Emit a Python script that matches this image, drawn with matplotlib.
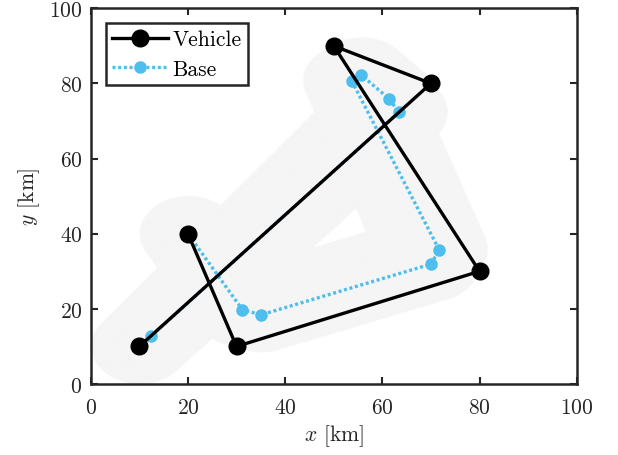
"""Vehicle / base route with the base's 10 km operating corridor."""

import numpy as np
import matplotlib

matplotlib.use("Agg")
import matplotlib.pyplot as plt
from matplotlib.colors import to_rgb

plt.rcParams["font.family"] = "serif"
plt.rcParams["font.serif"] = ["cmr10", "DejaVu Serif"]
plt.rcParams["mathtext.fontset"] = "cm"
plt.rcParams["axes.formatter.use_mathtext"] = True

# targets visited by the vehicle, in order
vehicle_x = [10, 70, 50, 80, 30, 20]
vehicle_y = [10, 80, 90, 30, 10, 40]

# base route: launch / recovery points in pairs
base_x = [10, 12.5, 63.4, 61.4, 55.7, 53.7, 71.7, 70.0, 35.0, 31.2, 20]
base_y = [10, 12.9, 72.3, 75.9, 82.2, 80.7, 35.7, 31.9, 18.4, 19.8, 40]

corridor_radius = 10.0  # km

GRAY = "#f5f5f5"
BLUE = "#4dbeee"
AXC = "#262626"
FS = 15.5


def convex_hull(pts):
    pts = sorted(set(pts))
    if len(pts) < 3:
        return pts

    def cross(o, a, b):
        return (a[0] - o[0]) * (b[1] - o[1]) - (a[1] - o[1]) * (b[0] - o[0])

    lower, upper = [], []
    for p in pts:
        while len(lower) >= 2 and cross(lower[-2], lower[-1], p) <= 0:
            lower.pop()
        lower.append(p)
    for p in reversed(pts):
        while len(upper) >= 2 and cross(upper[-2], upper[-1], p) <= 0:
            upper.pop()
        upper.append(p)
    return lower[:-1] + upper[:-1]


def seg_dist(X, Y, a, b):
    ax_, ay_ = a
    dx, dy = b[0] - ax_, b[1] - ay_
    L2 = dx * dx + dy * dy
    if L2 == 0:
        return np.hypot(X - ax_, Y - ay_)
    t = np.clip(((X - ax_) * dx + (Y - ay_) * dy) / L2, 0, 1)
    return np.hypot(X - (ax_ + t * dx), Y - (ay_ + t * dy))


def hull_dist(X, Y, hull):
    n = len(hull)
    d = np.full(X.shape, np.inf)
    inside = np.ones(X.shape, bool)
    for i in range(n):
        a, b = hull[i], hull[(i + 1) % n]
        d = np.minimum(d, seg_dist(X, Y, a, b))
        if n >= 3:
            inside &= (b[0] - a[0]) * (Y - a[1]) - (b[1] - a[1]) * (X - a[0]) >= 0
    if n >= 3:
        d[inside] = 0
    return d


# distance field of the corridor (union of hulls of consecutive point pairs)
step = 0.1
g = np.arange(0, 100 + step / 2, step)
X, Y = np.meshgrid(g, g)
pts = list(zip(base_x, base_y))
D = np.full(X.shape, np.inf)
for i in range(0, len(pts) - 2, 2):
    D = np.minimum(D, hull_dist(X, Y, convex_hull(pts[i:i + 4])))

rgba = np.zeros(X.shape + (4,))
rgba[..., :3] = to_rgb(GRAY)
rgba[..., 3] = np.clip((corridor_radius - D) / 0.2 + 0.5, 0, 1)

fig = plt.figure(figsize=(6.18, 4.56), dpi=100)
ax = fig.add_axes([0.1468, 0.1557, 0.7864, 0.8239])

ax.imshow(rgba, origin="lower", extent=(0, 100, 0, 100), aspect="auto",
          interpolation="bilinear", zorder=0)
ax.plot(base_x, base_y, linestyle=(0, (0.9, 0.8)), color=BLUE, lw=2.4,
        marker="o", ms=8, label="Base", zorder=2)
ax.plot(vehicle_x, vehicle_y, "-", color="black", lw=2.4, marker="o", ms=12,
        label="Vehicle", zorder=3)

ax.set_xlim(0, 100)
ax.set_ylim(0, 100)
ax.set_xticks(range(0, 101, 20))
ax.set_yticks(range(0, 101, 20))
ax.tick_params(direction="in", length=5, width=1.5, top=True, right=True,
               labelsize=FS, colors=AXC)
ax.tick_params(axis="x", pad=9.5)
ax.tick_params(axis="y", pad=6)
for s in ax.spines.values():
    s.set_linewidth(1.8)
    s.set_color(AXC)
ax.set_xlabel("$x$ [km]", fontsize=FS, color=AXC, labelpad=4)
ax.set_ylabel("$y$ [km]", fontsize=FS, color=AXC, labelpad=5)

h, l = ax.get_legend_handles_labels()
leg = ax.legend(h[::-1], l[::-1], loc="upper left", fontsize=FS,
                fancybox=False, framealpha=1, edgecolor=AXC,
                handlelength=2.6, handletextpad=0.2, borderpad=0.3,
                labelspacing=0.45, borderaxespad=0.7)
leg.get_frame().set_linewidth(1.8)

fig.savefig("out.png", dpi=100)
